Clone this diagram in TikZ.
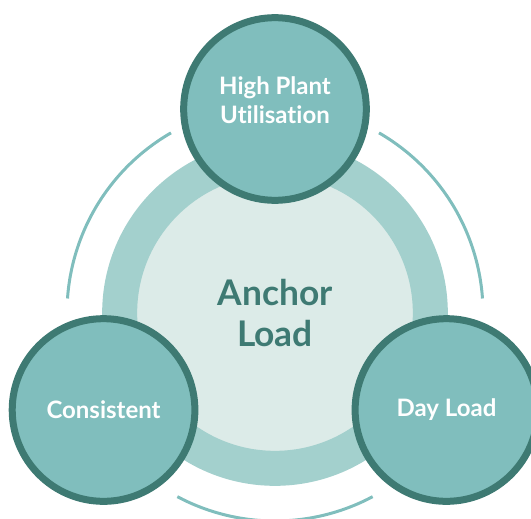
\documentclass[tikz,border=0pt]{standalone}
\usepackage{fontspec}
\setmainfont{Lato}[Ligatures={NoCommon}]
\usepackage{xcolor}
\definecolor{darkteal}{RGB}{62,122,115}
\definecolor{midteal}{RGB}{128,190,189}
\definecolor{ringteal}{RGB}{163,208,205}
\definecolor{paleteal}{RGB}{220,235,232}
\usepackage{tikz}
\newcommand{\sizepetal}{137pt}
\newcommand{\sizehub}{233pt}
\newcommand{\radiusorbit}{208}
\tikzset{
    common/.style={circle, inner sep=0pt, align=center},
    petal/.style={common, draw=darkteal, fill=midteal, line width=5.25pt, minimum size=\sizepetal, text=white, font=\bfseries\fontsize{18}{21.75}\selectfont},
    hub/.style={common, draw=ringteal, fill=paleteal, line width=26.25pt, minimum size=\sizehub, text=darkteal, font=\bfseries\fontsize{26.5}{31}\selectfont},
    orbit/.style={draw=midteal, line width=2.25pt}
}
\begin{document}
\begin{tikzpicture}[x=0.75pt, y=0.75pt]
    \useasboundingbox (-275,-205) rectangle (256,313);
    \node[hub] (anchor) at (0,0) {Anchor\\Load};
    \node[petal, text depth=13pt] (plant) at (90:204) {High Plant\\Utilisation};
    \node[petal] (consistent) at (209.5:197) {Consistent};
    \node[petal] (dayload) at (330.5:197) {Day Load};

    \foreach \a in {32,148,270}
        \draw[orbit] (anchor.center) ++(\a-28:\radiusorbit) arc[start angle=\a-28, end angle=\a+28, radius=\radiusorbit];
\end{tikzpicture}
\end{document}
